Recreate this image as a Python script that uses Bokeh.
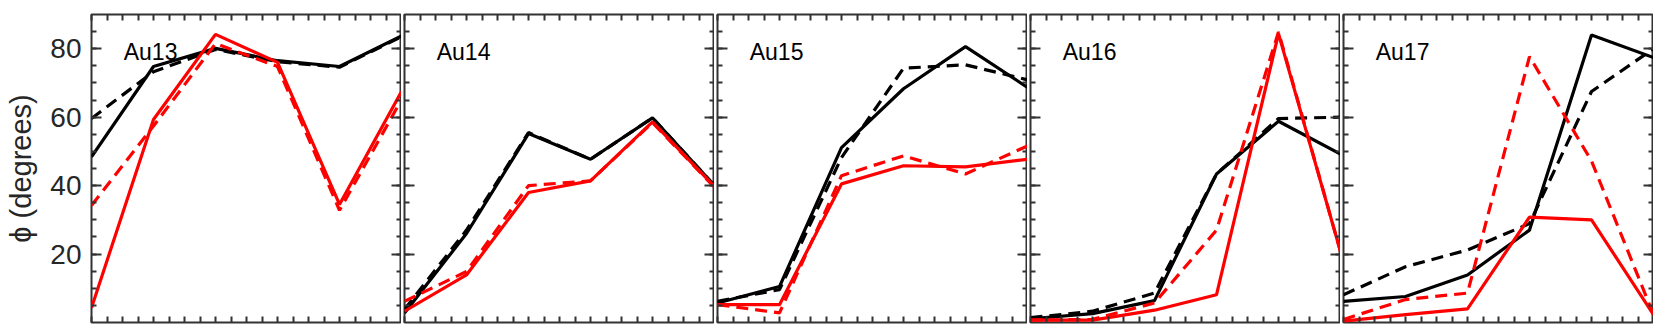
from bokeh.plotting import figure
from bokeh.layouts import row
from bokeh.models import FixedTicker, LinearAxis, Range1d, Label, CustomJSTickFormatter
from bokeh.embed import file_html
from bokeh.resources import INLINE

panels = ["Au13", "Au14", "Au15", "Au16", "Au17"]
x_vals = [0, 1, 2, 3, 4, 5]

black_solid = [
    [48.4, 74.8, 80.1, 76.5, 74.8, 83.7],
    [2.8, 26.0, 55.2, 47.7, 59.8, 40.0],
    [5.7, 10.5, 51.1, 68.3, 80.6, 68.7],
    [1.1, 2.6, 6.4, 43.4, 58.8, 49.2],
    [6.2, 7.6, 13.9, 27.0, 84.0, 77.4],
]
black_dashed = [
    [59.6, 73.3, 79.8, 76.2, 74.6, 83.5],
    [3.8, 27.0, 55.5, 47.7, 59.8, 40.0],
    [6.2, 9.6, 48.2, 74.3, 75.3, 70.9],
    [1.4, 3.3, 8.6, 43.4, 59.6, 60.0],
    [8.1, 16.3, 21.2, 28.9, 67.5, 80.0],
]
red_solid = [
    [4.3, 59.3, 84.2, 76.0, 34.5, 67.5],
    [3.3, 13.9, 38.0, 41.4, 58.6, 39.7],
    [5.2, 5.2, 40.5, 45.8, 45.5, 47.7],
    [0.7, 0.7, 3.6, 8.1, 84.4, 20.7],
    [0.4, 2.3, 4.0, 30.8, 30.0, 2.3],
]
red_dashed = [
    [34.2, 57.4, 81.5, 74.8, 32.8, 65.1],
    [6.2, 14.9, 40.0, 41.4, 58.4, 39.5],
    [5.2, 2.8, 42.9, 48.7, 43.4, 51.6],
    [0.7, 0.9, 5.7, 27.0, 84.9, 20.7],
    [0.9, 6.7, 8.6, 77.7, 47.2, 2.3],
]

y_major = [20, 40, 60, 80]
y_minor = list(range(5, 90, 5))
x_ticks = [i * 0.25 for i in range(0, 21)]

FONT = "Liberation Sans"
FRAME = "#333333"


def make_axis(kind, labels, show_title=False):
    if kind == "y":
        ax = LinearAxis(ticker=FixedTicker(ticks=y_major, minor_ticks=y_minor))
        ax.major_tick_in = 10
        ax.minor_tick_in = 5
    else:
        ax = LinearAxis(ticker=FixedTicker(ticks=x_ticks, minor_ticks=[]))
        ax.major_tick_in = 6
        ax.minor_tick_in = 0
    ax.major_tick_out = 0
    ax.minor_tick_out = 0
    ax.axis_line_color = None
    ax.major_tick_line_color = FRAME
    ax.minor_tick_line_color = FRAME
    ax.major_tick_line_width = 2
    ax.minor_tick_line_width = 2
    if labels:
        ax.major_label_text_font = FONT
        ax.major_label_text_font_size = "28px"
        ax.major_label_text_color = "#262626"
        ax.major_label_standoff = 10
    else:
        ax.formatter = CustomJSTickFormatter(code="return '';")
        ax.major_label_text_font_size = "1px"
        ax.major_label_text_color = None
        ax.major_label_standoff = 0
    if show_title:
        ax.axis_label = "\u03d5 (degrees)"
        ax.axis_label_text_font = FONT
        ax.axis_label_text_font_size = "29px"
        ax.axis_label_text_font_style = "normal"
        ax.axis_label_text_color = "#262626"
        ax.axis_label_standoff = 10
    return ax


figs = []
for i, name in enumerate(panels):
    first = i == 0
    p = figure(
        width=401 if first else 313,
        height=327,
        x_range=Range1d(0, 5),
        y_range=Range1d(0, 90),
        output_backend="svg",
        toolbar_location=None,
        x_axis_location=None,
        y_axis_location=None,
        min_border_left=91 if first else 3,
        min_border_right=0,
        min_border_top=14,
        min_border_bottom=5,
    )
    p.xgrid.grid_line_color = None
    p.ygrid.grid_line_color = None
    p.outline_line_color = FRAME
    p.outline_line_width = 2
    p.background_fill_color = "white"
    p.border_fill_color = "white"

    p.add_layout(make_axis("y", first, first), "left")
    p.add_layout(make_axis("y", False), "right")
    p.add_layout(make_axis("x", False), "above")
    p.add_layout(make_axis("x", False), "below")

    p.line(x_vals, black_solid[i], line_color="black", line_width=3.2)
    p.line(x_vals, black_dashed[i], line_color="black", line_width=3.2, line_dash="12 7")
    p.line(x_vals, red_solid[i], line_color="#ff0000", line_width=3.2)
    p.line(x_vals, red_dashed[i], line_color="#ff0000", line_width=3.2, line_dash="12 7")

    p.add_layout(Label(x=0.52, y=79, text=name, text_font=FONT, text_font_size="23px",
                       text_baseline="middle", text_color="black"))
    figs.append(p)

layout = row(*figs)
open("out.html", "w").write(file_html(layout, INLINE))
